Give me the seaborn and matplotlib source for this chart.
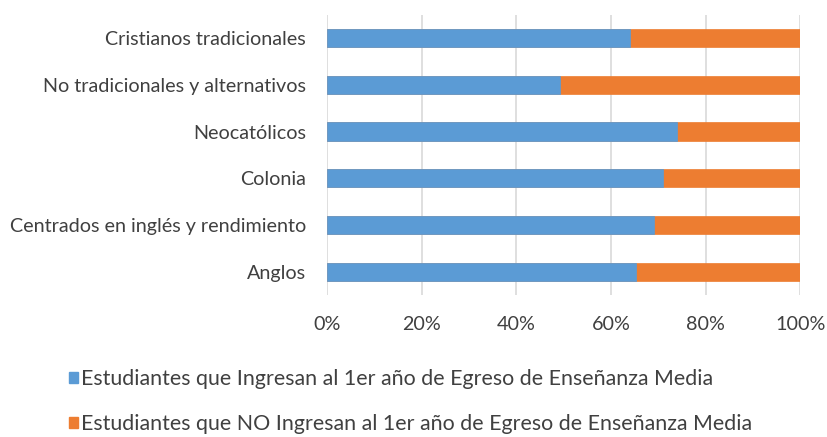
import matplotlib
matplotlib.use("Agg")
import matplotlib.pyplot as plt
import seaborn as sns
import pandas as pd
from matplotlib.patches import Patch
from matplotlib.ticker import FuncFormatter

categorias = ["Cristianos tradicionales", "No tradicionales y alternativos", "Neocatólicos",
              "Colonia", "Centrados en inglés y rendimiento", "Anglos"]
ingresan = [64.0, 49.3, 74.0, 71.0, 69.1, 65.2]
no_ingresan = [36.0, 50.7, 26.0, 29.0, 30.9, 34.8]
serie_1 = "Estudiantes que Ingresan al 1er año de Egreso de Enseñanza Media"
serie_2 = "Estudiantes que NO Ingresan al 1er año de Egreso de Enseñanza Media"
ticks = [0, 20, 40, 60, 80, 100]

azul = "#5B9BD5"
naranja = "#ED7D31"

sns.set_theme(style="white")
plt.rcParams["font.family"] = ["Lato", "DejaVu Sans"]

df = pd.DataFrame({"cat": categorias, "ing": ingresan, "no": no_ingresan})
df["total"] = df["ing"] + df["no"]

fig = plt.figure(figsize=(8.27, 4.37), dpi=100)
ax = fig.add_axes([0.3955, 0.325, 0.572, 0.641])

sns.barplot(data=df, x="total", y="cat", color=naranja, orient="h", width=0.39,
            saturation=1, ax=ax, edgecolor=naranja, linewidth=0.5)
sns.barplot(data=df, x="ing", y="cat", color=azul, orient="h", width=0.39,
            saturation=1, ax=ax, edgecolor=azul, linewidth=0.5)

ax.set_xlim(0, 100)
ax.set_xticks(ticks)
ax.xaxis.set_major_formatter(FuncFormatter(lambda v, p: f"{int(v)}%"))
ax.set_xlabel("")
ax.set_ylabel("")
ax.grid(axis="x", color="#d9d9d9", linewidth=1.2)
ax.set_axisbelow(True)
for s in ax.spines.values():
    s.set_visible(False)
ax.tick_params(axis="both", length=0, labelsize=14.2, colors="#404040")
ax.tick_params(axis="y", pad=15)
ax.tick_params(axis="x", pad=15)

handles = [Patch(facecolor=azul, edgecolor=azul), Patch(facecolor=naranja, edgecolor=naranja)]
fig.legend(handles, [serie_1, serie_2], loc="upper left", bbox_to_anchor=(0.083, 0.155),
           frameon=False, ncol=1, fontsize=15.4, labelcolor="#404040",
           handlelength=0.42, handleheight=0.42, handletextpad=0.15, labelspacing=1.15,
           borderaxespad=0, borderpad=0)

fig.savefig("out.png", dpi=100)
